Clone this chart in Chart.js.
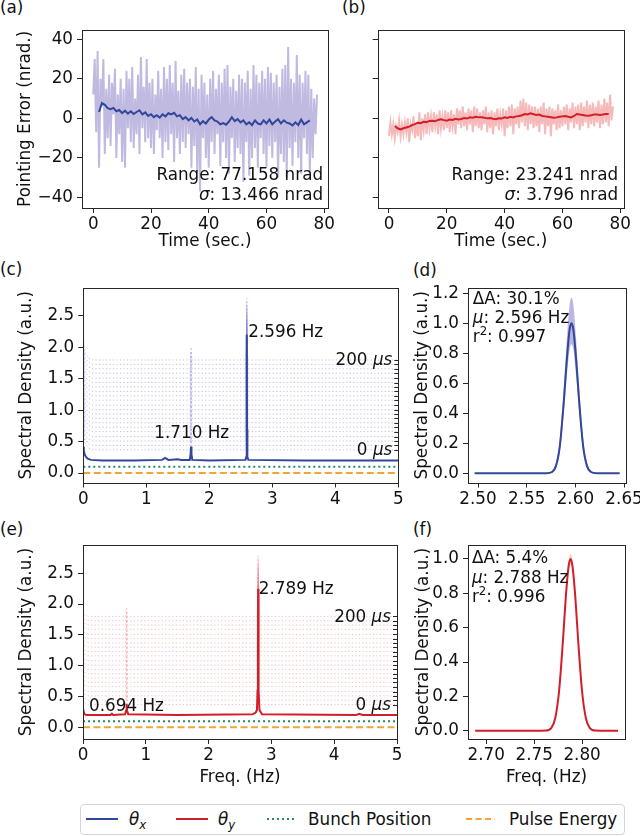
<!DOCTYPE html>
<html lang="en">
<head>
<meta charset="UTF-8">
<title>Pointing error and spectral density</title>
<script src="https://cdn.jsdelivr.net/npm/chart.js"></script>
<style>
  body { margin: 0; width: 640px; height: 836px; position: relative; overflow: hidden; background: #fff;
         font-family: 'DejaVu Sans', sans-serif; font-size: 16.8px; color: #111; }
  canvas { position: absolute; }
  .tag { position: absolute; line-height: 20px; white-space: nowrap; }
  #legend { position: absolute; left: 80px; top: 804px; width: 545px; height: 31px; box-sizing: border-box;
            border: 1px solid #d4d4d4; border-radius: 4px; }
  #legend svg { position: absolute; left: 0; top: 0; }
  #legend span { position: absolute; top: 4px; line-height: 20px; white-space: nowrap; }
  #legend sub { font-size: 70%; vertical-align: -4px; line-height: 0; }
</style>
</head>
<body>
  <div class="tag" style="left:0;top:-3px">(a)</div>
  <div class="tag" style="left:342px;top:-3px">(b)</div>
  <div class="tag" style="left:0;top:259px">(c)</div>
  <div class="tag" style="left:413px;top:260px">(d)</div>
  <div class="tag" style="left:0;top:519px">(e)</div>
  <div class="tag" style="left:413px;top:519px">(f)</div>

  <canvas id="pa" width="345" height="258" style="left:0px;top:0px"></canvas>
  <canvas id="pb" width="305" height="258" style="left:335px;top:0px"></canvas>
  <canvas id="pc" width="410" height="262" style="left:0px;top:258px"></canvas>
  <canvas id="pd" width="245" height="262" style="left:405px;top:258px"></canvas>
  <canvas id="pe" width="410" height="270" style="left:0px;top:520px"></canvas>
  <canvas id="pf" width="245" height="270" style="left:405px;top:520px"></canvas>

  <div id="legend">
    <svg width="545" height="31">
      <line x1="5" y1="14" x2="37" y2="14" stroke="#33479a" stroke-width="2"/>
      <line x1="95" y1="14" x2="127" y2="14" stroke="#d11f2a" stroke-width="2"/>
      <line x1="186" y1="14" x2="214" y2="14" stroke="#2b8a63" stroke-width="2" stroke-dasharray="2 3"/>
      <line x1="385" y1="14" x2="414" y2="14" stroke="#f2a33a" stroke-width="2" stroke-dasharray="6 3.5"/>
    </svg>
    <span style="left:48px"><i>θ</i><sub><i>x</i></sub></span>
    <span style="left:137px"><i>θ</i><sub><i>y</i></sub></span>
    <span style="left:227px">Bunch Position</span>
    <span style="left:428px">Pulse Energy</span>
  </div>

<script>
  // ---- (a)/(b) pointing error, raw samples every 0.5 s from t = 0 ----
  const SAMPLE_DT = 0.5;
  const noiseA = [
    12, 30, -7, 34, -25, 20, 6, 30, -18, 15,
    -10, 22, -14, 18, 2, 25, -20, 12, -8, 20,
    -22, 15, -25, 24, -5, 20, -12, 26, -15, 10,
    -8, 22, -18, 31, -5, 16, -12, 30, -10, 18,
    -15, 20, -18, 12, -6, 24, -10, 15, -20, 26,
    -12, 20, -16, 27, -8, 18, -22, 29, -10, 14,
    -18, 22, -12, 25, -15, 18, -8, 20, -25, 16,
    -14, 26, -27, 15, -37, 22, -10, 18, -20, 12,
    -25, 20, -12, 24, -18, 15, -8, 22, -24, 18,
    -12, 25, -20, 27, -28, 16, -10, 20, -22, 14,
    -15, 22, -18, 20, -32, 18, -12, 24, -29, 15,
    -20, 27, -15, 22, -25, 18, -10, 24, -18, 20,
    -25, 26, -14, 23, -20, 18, -12, 22, -30, 16,
    -18, 25, -22, 27, -30, 36, -15, 20, -24, 18,
    -12, 32, -20, 22, -28, 18, -10, 24, -18, 22,
    -28, 15, -20, 10, -8, 12
  ];
  const noiseB = [
    -9, -2, -8, -3, -10, -4, -7, -1, -9, -3,
    -8, -2, -7, 0, -12, -3, -6, 1, -10, -2,
    -9, 3, -11, 0, -6, 2, -8, 3, -5, 1,
    -7, 3, -4, 2, -8, 4, -5, 1, -6, 4,
    -5, 3, -7, 4, -4, 2, -8, 5, -3, 4,
    -5, 6, -4, 3, -6, 5, -3, 4, -7, 6,
    -4, 5, -5, 3, -6, 4, -3, 6, -7, 3,
    -5, 4, -8, 3, -4, 5, -6, 2, -3, 5,
    -9, 4, -5, 6, -4, 7, -8, 5, -3, 6,
    -5, 9, -2, 10, -4, 8, -6, 7, -3, 6,
    -5, 6, -4, 5, -7, 6, -3, 8, -8, 5,
    -4, 6, -9, 5, -3, 4, -6, 7, -5, 4,
    -4, 6, -3, 7, -6, 5, -2, 8, -5, 6,
    -3, 7, -6, 8, -4, 6, -2, 9, -5, 7,
    -3, 8, -4, 6, -2, 9, -5, 7, -3, 10,
    -2, 8, -4, 12, -1, 6
  ];
  // moving averages, one value per second starting at t = 2 s
  const AVG_T0 = 2;
  const avgA = [
    3.2, 7.7, 6.8, 5.2, 4.6, 5.3, 3.6, 4.2, 2.6, 3.9,
    2.4, 3.6, 2.2, 3.2, 4.1, 2.0, 3.0, 1.2, 2.1, 0.6,
    1.6, 0.4, 2.0, 1.0, 2.6, 2.0, 2.8, 1.0, 1.6, -0.4,
    0.6, -1.0, 0.2, -1.6, -0.6, -3.0, -1.4, -2.6, -0.6, 0.6,
    -1.0, -1.6, -3.0, -2.4, -3.2, -1.6, 0.6, -1.4, -0.4, -2.0,
    -1.0, -3.0, -2.0, -3.4, -1.0, -2.6, -3.0, -1.0, -2.6, -0.6,
    -3.0, -1.6, -0.4, -2.6, -1.0, -2.2, -2.6, -3.6, -2.0, -3.4,
    -0.6, -3.0, -2.0, -1.0
  ];
  const avgB = [
    -3.9, -5.0, -5.6, -5.0, -4.6, -4.2, -3.4, -2.9, -2.2, -2.4,
    -1.7, -1.9, -1.3, -1.2, -1.5, -0.8, -0.5, -0.9, -1.2, -0.6,
    -0.8, -0.2, -0.6, -0.3, 0.2, -0.1, 0.5, 0.3, 0.8, 0.5,
    0.6, 0.3, 0.0, 0.2, -0.2, -0.4, 0.0, -0.1, 0.5, 0.2,
    0.8, 0.5, 1.0, 1.2, 1.6, 2.2, 2.0, 2.5, 2.1, 1.7,
    1.9, 1.2, 1.0, 0.8, 0.6, 0.3, 0.5, 0.8, 1.0, 1.2,
    0.8, 0.5, 1.2, 2.2, 1.9, 1.7, 1.4, 1.3, 1.6, 2.0,
    1.9, 1.7, 1.9, 2.2, 2.2
  ];
  const errTicks = [-40, -20, 0, 20, 40];
  const timeTicks = [0, 20, 40, 60, 80];

  // ---- (c)/(e) spectra ----
  const specFreqC = [0, 0.008, 0.02, 0.04, 0.07, 0.12, 0.3, 0.8, 1.25, 1.3, 1.35, 1.5, 1.55,
                     1.69, 1.703, 1.71, 1.717, 1.73, 2.0, 2.575, 2.588, 2.593, 2.596, 2.599, 2.604, 2.62, 3.5, 5.0];
  const specC = [0.42, 0.36, 0.3, 0.26, 0.23, 0.21, 0.2, 0.2, 0.21, 0.24, 0.21, 0.22, 0.21,
                 0.21, 0.3, 0.42, 0.3, 0.21, 0.2, 0.21, 0.26, 0.7, 2.2, 0.7, 0.26, 0.21, 0.2, 0.2];
  const specFreqE = [0, 0.02, 0.05, 0.1, 0.44, 0.46, 0.48, 0.67, 0.685, 0.694, 0.703, 0.72, 1.5,
                     2.7, 2.75, 2.77, 2.78, 2.786, 2.789, 2.792, 2.798, 2.81, 2.85, 4.35, 4.4, 4.45, 5];
  const specE = [0.3, 0.22, 0.2, 0.2, 0.2, 0.22, 0.2, 0.21, 0.27, 0.38, 0.27, 0.21, 0.2,
                 0.21, 0.24, 0.28, 0.6, 1.2, 2.25, 1.2, 0.6, 0.28, 0.21, 0.2, 0.22, 0.2, 0.2];
  // waterfall of bunch-delay spectra (0 ... 200 µs), each row offset upward
  const rowOffsets = [0.37, 0.44, 0.51, 0.58, 0.66, 0.73, 0.80, 0.87, 0.94, 1.01, 1.08,
                      1.16, 1.23, 1.30, 1.37, 1.44, 1.51, 1.59, 1.66, 1.73, 1.80];
  const rowEndLabels = ['0', '200'];
  const rowFreqC = [0, 0.01, 0.03, 0.08, 0.15, 1.695, 1.71, 1.725, 2.582, 2.596, 2.61, 5];
  const rowShapeC = [0.45, 0.25, 0.1, 0.03, 0, 0, 0.2, 0, 0, 0.98, 0, 0];
  const rowFreqE = [0, 0.03, 0.1, 0.68, 0.694, 0.708, 2.775, 2.789, 2.803, 5];
  const rowShapeE = [0.08, 0.02, 0, 0, 0.15, 0, 0, 1.0, 0, 0];
  const levelFreq = [0, 5];
  const bunchLevel = [0.1, 0.1];
  const pulseLevel = [0, 0];
  const specTicks = [0, 0.5, 1.0, 1.5, 2.0, 2.5];
  const freqTicks = [0, 1, 2, 3, 4, 5];

  // ---- (d)/(f) Gaussian fits of the main peak ----
  const fitFreqD = [2.4965, 2.560, 2.570, 2.576, 2.580, 2.584, 2.588, 2.591, 2.594, 2.596,
                    2.598, 2.601, 2.604, 2.608, 2.612, 2.616, 2.622, 2.632, 2.6455];
  const fitD   = [0, 0, 0.0003, 0.009, 0.048, 0.18, 0.47, 0.74, 0.954, 1.0, 0.954, 0.74, 0.47, 0.18, 0.048, 0.009, 0.0003, 0, 0];
  const upperD = [0, 0, 0.001, 0.015, 0.07, 0.23, 0.56, 0.87, 1.12, 1.17, 1.12, 0.87, 0.56, 0.23, 0.07, 0.015, 0.001, 0, 0];
  const lowerD = [0, 0, 0, 0.005, 0.03, 0.14, 0.39, 0.63, 0.82, 0.86, 0.82, 0.63, 0.39, 0.14, 0.03, 0.005, 0, 0, 0];
  const fitFreqF = [2.6885, 2.752, 2.762, 2.768, 2.772, 2.776, 2.780, 2.783, 2.786, 2.788,
                    2.790, 2.793, 2.796, 2.800, 2.804, 2.808, 2.814, 2.824, 2.8375];
  const fitF   = [0, 0, 0.001, 0.017, 0.073, 0.23, 0.52, 0.775, 0.96, 1.0, 0.96, 0.775, 0.52, 0.23, 0.073, 0.017, 0.001, 0, 0];
  const upperF = [0, 0, 0.001, 0.018, 0.076, 0.24, 0.54, 0.80, 0.99, 1.03, 0.99, 0.80, 0.54, 0.24, 0.076, 0.018, 0.001, 0, 0];
  const lowerF = [0, 0, 0.001, 0.016, 0.07, 0.22, 0.50, 0.75, 0.93, 0.97, 0.93, 0.75, 0.50, 0.22, 0.07, 0.016, 0.001, 0, 0];
  const fitTicksYD = [0, 0.2, 0.4, 0.6, 0.8, 1.0, 1.2];
  const fitTicksXD = [2.50, 2.55, 2.60, 2.65];
  const fitTicksYF = [0, 0.2, 0.4, 0.6, 0.8, 1.0];
  const fitTicksXF = [2.70, 2.75, 2.80];

  const BLUE = '#33479a', RED = '#d11f2a', GREEN = '#2b8a63', ORANGE = '#f2a33a';
  const FS = 16.8;
  const FONT = "'DejaVu Sans', sans-serif";

  Chart.defaults.font.family = FONT;
  Chart.defaults.font.size = FS;
  Chart.defaults.color = '#111';
  Chart.defaults.animation = false;
  Chart.defaults.plugins.legend.display = false;
  Chart.defaults.plugins.tooltip.enabled = false;

  function line(xs, ys, color, width, extra) {
    return Object.assign({
      data: xs.map((x, i) => ({ x: x, y: ys[i] })),
      borderColor: color, borderWidth: width, pointRadius: 0, fill: false, tension: 0
    }, extra || {});
  }

  const minus = v => (v < 0 ? '\u2212' + (-v) : '' + v);

  // text with italic / superscript pieces: parts = [[text, style], ...]
  function drawRich(ctx, parts, x, y, align) {
    const fontOf = s => (s === 'i' ? 'italic ' : '') + (s === 'sup' ? FS * 0.7 : FS) + 'px ' + FONT;
    let w = 0;
    parts.forEach(([t, s]) => { ctx.font = fontOf(s); w += ctx.measureText(t).width; });
    let cx = align === 'right' ? x - w : x;
    parts.forEach(([t, s]) => {
      ctx.font = fontOf(s);
      ctx.fillText(t, cx, y + (s === 'sup' ? -FS * 0.4 : 0));
      cx += ctx.measureText(t).width;
    });
  }

  // frame, annotations and the inner right-hand delay ticks
  function decor(spec) {
    return {
      id: 'decor',
      afterDatasetsDraw(chart) {
        const { ctx, chartArea: a, scales } = chart;
        ctx.save();
        ctx.strokeStyle = '#262626';
        ctx.lineWidth = 1;
        const l = Math.round(a.left) + 0.5, t = Math.round(a.top) + 0.5;
        ctx.strokeRect(l, t, Math.round(a.right) - Math.round(a.left), Math.round(a.bottom) - Math.round(a.top));
        ctx.fillStyle = '#111';
        ctx.textBaseline = 'alphabetic';
        (spec.notes || []).forEach(n => {
          const x = n.data ? scales.x.getPixelForValue(n.x) : a.left + n.x * (a.right - a.left);
          const y = n.data ? scales.y.getPixelForValue(n.y) : a.top + n.y * (a.bottom - a.top);
          drawRich(ctx, n.parts, x, y, n.align);
        });
        if (spec.offsets) {
          ctx.beginPath();
          spec.offsets.forEach(v => {
            const y = Math.round(scales.y.getPixelForValue(v)) + 0.5;
            ctx.moveTo(a.right - 4, y);
            ctx.lineTo(a.right, y);
          });
          ctx.stroke();
          const first = spec.offsets[0], last = spec.offsets[spec.offsets.length - 1];
          drawRich(ctx, [[rowEndLabels[0] + ' '], ['\u03bcs', 'i']], a.right - 6, scales.y.getPixelForValue(first) + 5.5, 'right');
          drawRich(ctx, [[rowEndLabels[1] + ' '], ['\u03bcs', 'i']], a.right - 6, scales.y.getPixelForValue(last) + 5.5, 'right');
        }
        ctx.restore();
      }
    };
  }

  function scaleOpts(ax, horiz, size) {
    return {
      type: 'linear', min: ax.min, max: ax.max,
      afterBuildTicks: s => { s.ticks = ax.ticks.map(v => ({ value: v })); },
      afterFit: s => { if (horiz) s.height = size; else s.width = size; },
      ticks: { callback: ax.fmt, padding: horiz ? 2 : 4, maxRotation: 0, minRotation: 0, autoSkip: false, color: '#111' },
      grid: { drawOnChartArea: false, tickLength: 5, color: '#262626' },
      border: { display: false },
      title: { display: !!ax.title, text: ax.title, padding: 0, color: '#111' }
    };
  }

  function makePanel(id, area, xAx, yAx, datasets, spec) {
    const c = document.getElementById(id);
    const cx = parseFloat(c.style.left), cy = parseFloat(c.style.top);
    const half = FS * 0.6;
    const axisLeft = yAx.title ? yAx.titleX - half : area.left - 20;
    const axisBottom = xAx.title ? xAx.titleY + half : area.bottom + 30;
    return new Chart(c, {
      type: 'line',
      data: { datasets: datasets },
      options: {
        responsive: false,
        devicePixelRatio: 1,
        layout: { padding: {
          left: axisLeft - cx, top: area.top - cy,
          right: cx + c.width - area.right, bottom: cy + c.height - axisBottom } },
        scales: {
          x: scaleOpts(xAx, true, axisBottom - area.bottom),
          y: scaleOpts(yAx, false, area.left - axisLeft)
        }
      },
      plugins: [decor(spec)]
    });
  }

  const sampleTimes = noiseA.map((_, i) => i * SAMPLE_DT);
  const avgTimesA = avgA.map((_, i) => AVG_T0 + i);
  const avgTimesB = avgB.map((_, i) => AVG_T0 + i);
  const timeAxis = { min: -3.9, max: 81.3, ticks: timeTicks, fmt: v => '' + v, title: 'Time (sec.)', titleY: 241.5 };

  // (a)
  makePanel('pa', { left: 82, top: 29.7, right: 328, bottom: 208 },
    timeAxis,
    { min: -45.3, max: 44.8, ticks: errTicks, fmt: minus, title: 'Pointing Error (nrad.)', titleX: 25.5 },
    [
      line(avgTimesA, avgA, BLUE, 2, { order: 0 }),
      line(sampleTimes, noiseA, 'rgba(140,130,200,0.55)', 2, { order: 1 })
    ],
    { notes: [
      { x: 0.98, y: 0.843, align: 'right', parts: [['Range: 77.158 nrad']] },
      { x: 0.98, y: 0.955, align: 'right', parts: [['\u03c3', 'i'], [': 13.466 nrad']] }
    ] });

  // (b)
  makePanel('pb', { left: 377.7, top: 29.7, right: 624, bottom: 208 },
    timeAxis,
    { min: -45.3, max: 44.8, ticks: errTicks, fmt: () => '' },
    [
      line(avgTimesB, avgB, RED, 2, { order: 0 }),
      line(sampleTimes, noiseB, 'rgba(235,100,100,0.45)', 2, { order: 1 })
    ],
    { notes: [
      { x: 0.976, y: 0.845, align: 'right', parts: [['Range: 23.241 nrad']] },
      { x: 0.976, y: 0.956, align: 'right', parts: [['\u03c3', 'i'], [': 3.796 nrad']] }
    ] });

  function spectrumSets(freq, spec, rowFreq, rowShape, color, rowColor) {
    const rows = rowOffsets.map(off =>
      line(rowFreq, rowShape.map(v => v + off), rowColor, 1, { borderDash: [1.2, 2.3], order: 5 }));
    return [
      line(freq, spec, color, 2, { order: 0 }),
      line(levelFreq, bunchLevel, GREEN, 2, { borderDash: [2, 3], order: 1 }),
      line(levelFreq, pulseLevel, ORANGE, 2, { borderDash: [7, 3.5], order: 2 })
    ].concat(rows);
  }

  // (c)
  makePanel('pc', { left: 83.3, top: 288, right: 398.3, bottom: 482.5 },
    { min: 0, max: 5, ticks: freqTicks, fmt: v => '' + v },
    { min: -0.15, max: 2.945, ticks: specTicks, fmt: v => v.toFixed(1), title: 'Spectral Density (a.u.)', titleX: 26.5 },
    spectrumSets(specFreqC, specC, rowFreqC, rowShapeC, BLUE, 'rgba(110,110,200,0.45)'),
    { offsets: rowOffsets, notes: [
      { data: true, x: 2.62, y: 2.17, parts: [['2.596 Hz']] },
      { data: true, x: 1.127, y: 0.556, parts: [['1.710 Hz']] }
    ] });

  // (e)
  makePanel('pe', { left: 83, top: 545, right: 397, bottom: 739 },
    { min: 0, max: 5, ticks: freqTicks, fmt: v => '' + v, title: 'Freq. (Hz)', titleY: 778 },
    { min: -0.19, max: 2.96, ticks: specTicks, fmt: v => v.toFixed(1), title: 'Spectral Density (a.u.)', titleX: 26.5 },
    spectrumSets(specFreqE, specE, rowFreqE, rowShapeE, RED, 'rgba(230,90,100,0.4)'),
    { offsets: rowOffsets, notes: [
      { data: true, x: 2.80, y: 2.16, parts: [['2.789 Hz']] },
      { data: true, x: 0.096, y: 0.26, parts: [['0.694 Hz']] }
    ] });

  function fitSets(freq, fit, upper, lower, color, band) {
    return [
      line(freq, fit, color, 2, { cubicInterpolationMode: 'monotone', order: 0 }),
      line(freq, upper, 'rgba(0,0,0,0)', 0, { cubicInterpolationMode: 'monotone', fill: '+1', backgroundColor: band, order: 1 }),
      line(freq, lower, 'rgba(0,0,0,0)', 0, { cubicInterpolationMode: 'monotone', order: 2 })
    ];
  }

  // (d)
  makePanel('pd', { left: 468, top: 288, right: 626, bottom: 482.5 },
    { min: 2.4897, max: 2.652, ticks: fitTicksXD, fmt: v => v.toFixed(2) },
    { min: -0.061, max: 1.2355, ticks: fitTicksYD, fmt: v => v.toFixed(1), title: 'Spectral Density (a.u.)', titleX: 423 },
    fitSets(fitFreqD, fitD, upperD, lowerD, BLUE, 'rgba(120,110,195,0.5)'),
    { notes: [
      { x: 0.03, y: 0.080, parts: [['\u0394A: 30.1%']] },
      { x: 0.03, y: 0.178, parts: [['\u03bc', 'i'], [': 2.596 Hz']] },
      { x: 0.03, y: 0.277, parts: [['r'], ['2', 'sup'], [': 0.997']] }
    ] });

  // (f)
  makePanel('pf', { left: 468, top: 545, right: 625, bottom: 739 },
    { min: 2.681, max: 2.8448, ticks: fitTicksXF, fmt: v => v.toFixed(2), title: 'Freq. (Hz)', titleY: 778 },
    { min: -0.048, max: 1.0815, ticks: fitTicksYF, fmt: v => v.toFixed(1), title: 'Spectral Density (a.u.)', titleX: 424 },
    fitSets(fitFreqF, fitF, upperF, lowerF, RED, 'rgba(235,100,100,0.35)'),
    { notes: [
      { x: 0.025, y: 0.095, parts: [['\u0394A: 5.4%']] },
      { x: 0.025, y: 0.194, parts: [['\u03bc', 'i'], [': 2.788 Hz']] },
      { x: 0.025, y: 0.293, parts: [['r'], ['2', 'sup'], [': 0.996']] }
    ] });
</script>
</body>
</html>
